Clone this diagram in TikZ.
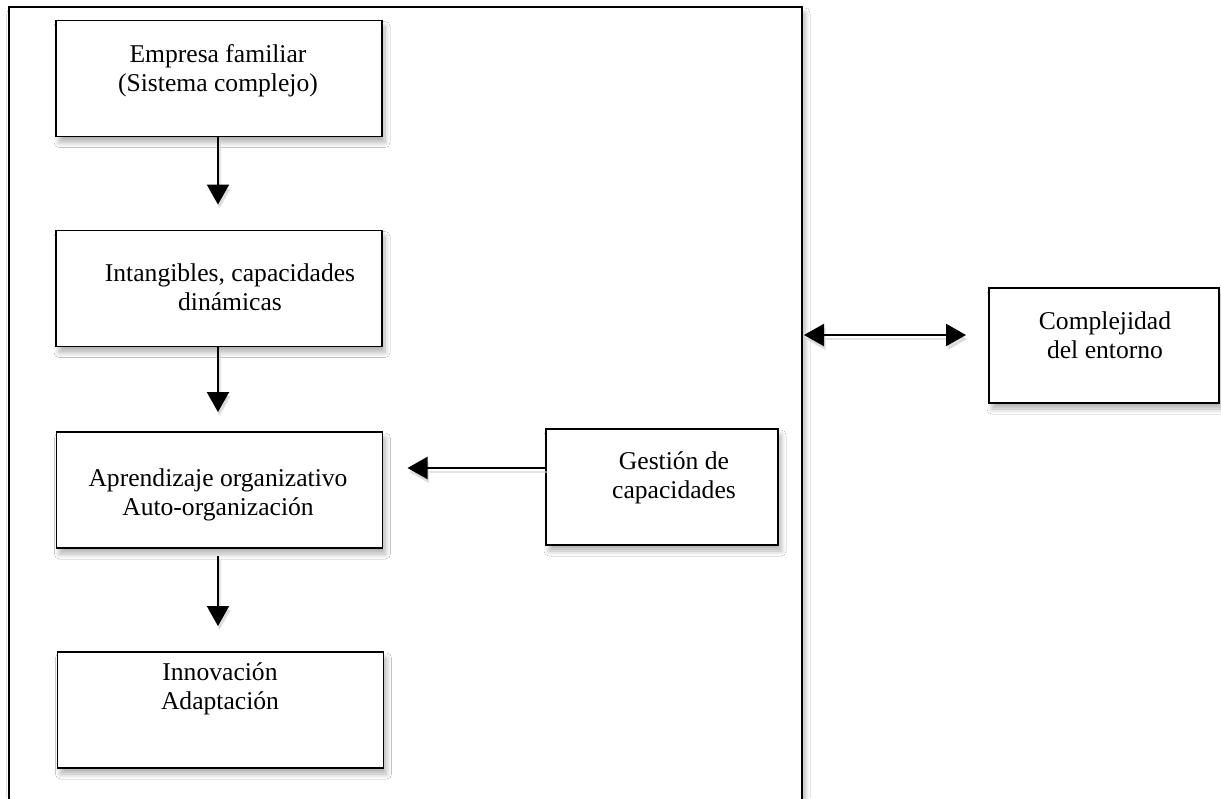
\documentclass[tikz,border=0pt]{standalone}
\usepackage{fontspec}
\setmainfont{Liberation Serif}
\usetikzlibrary{arrows.meta,shadows.blur}
\begin{document}
\begin{tikzpicture}[x=0.5pt,y=-0.5pt,
  shad/.style={blur shadow={shadow xshift=1.5pt, shadow yshift=-3pt, shadow blur radius=2.5pt, shadow blur steps=8, shadow opacity=30}},
  box/.style={draw=black, line width=0.8pt, fill=white, minimum width=163pt, minimum height=58pt, inner sep=0pt, outer sep=0pt, shad},
  txt/.style={align=center, font=\fontsize{12.8}{14.75}\selectfont, inner sep=0pt},
  tipshape/.style={Triangle[width=11pt,length=10pt]},
  conn/.style={line width=1.15pt, -{Triangle[width=11pt,length=10pt]}},
  dblconn/.style={line width=1.15pt, {Triangle[width=11pt,length=10pt]}-{Triangle[width=11pt,length=10pt]}},
  conshadow/.style={draw=black!18, opacity=0.6, transform canvas={xshift=0.8pt, yshift=-2pt}}
]
\useasboundingbox (0,0) rectangle (1221,798);
\fill[white] (0,0) rectangle (1221,798);

% outer frame
\node[draw=black, line width=0.8pt, fill=white, minimum width=396.5pt, minimum height=420pt, inner sep=0pt, outer sep=0pt, anchor=north west, shad] (outer) at (9,7) {};

% boxes
\node[box] (b1) at (219,78.5) {};
\node[box] (b2) at (219,288.5) {};
\node[box] (b3) at (219.5,490) {};
\node[box] (b4) at (220.5,710) {};
\node[box, minimum width=116pt] (g) at (662,487) {};
\node[box, minimum width=115pt, minimum height=57.5pt] (cx) at (1104,345.5) {};

% texts
\node[txt] (t1) at (218,71) {\strut Empresa familiar\\\strut(Sistema complejo)};
\node[txt] (t2) at (230,290) {\strut Intangibles, capacidades\\\strut dinámicas};
\node[txt] (t3) at (218,495) {\strut Aprendizaje organizativo\\\strut Auto-organización};
\node[txt] (t4) at (220,689) {\strut Innovación\\\strut Adaptación};
\node[txt] (t5) at (674,478) {\strut Gestión de\\\strut capacidades};
\node[txt] (t6) at (1105,338) {\strut Complejidad\\\strut del entorno};

% connectors
\coordinate (gy) at (0,468);
\coordinate (dy) at (0,335);
\begin{scope}[conshadow]
\draw[conn, shorten >=13pt] (b1.south -| 218,0) -- (b2.north -| 218,0);
\draw[conn, shorten >=10pt] (b2.south -| 218,0) -- (b3.north -| 218,0);
\draw[conn, shorten <=4pt, shorten >=13pt] (b3.south -| 218,0) -- (b4.north -| 218,0);
\draw[conn, shorten >=12.5pt] (gy -| g.west) -- (gy -| b3.east);
\draw[dblconn, shorten <=1pt, shorten >=11.5pt] (dy -| outer.east) -- (dy -| cx.west);
\end{scope}
\draw[conn, shorten >=13pt] (b1.south -| 218,0) -- (b2.north -| 218,0);
\draw[conn, shorten >=10pt] (b2.south -| 218,0) -- (b3.north -| 218,0);
\draw[conn, shorten <=4pt, shorten >=13pt] (b3.south -| 218,0) -- (b4.north -| 218,0);
\draw[conn, shorten >=12.5pt] (gy -| g.west) -- (gy -| b3.east);
\draw[dblconn, shorten <=1pt, shorten >=11.5pt] (dy -| outer.east) -- (dy -| cx.west);
\end{tikzpicture}
\end{document}
